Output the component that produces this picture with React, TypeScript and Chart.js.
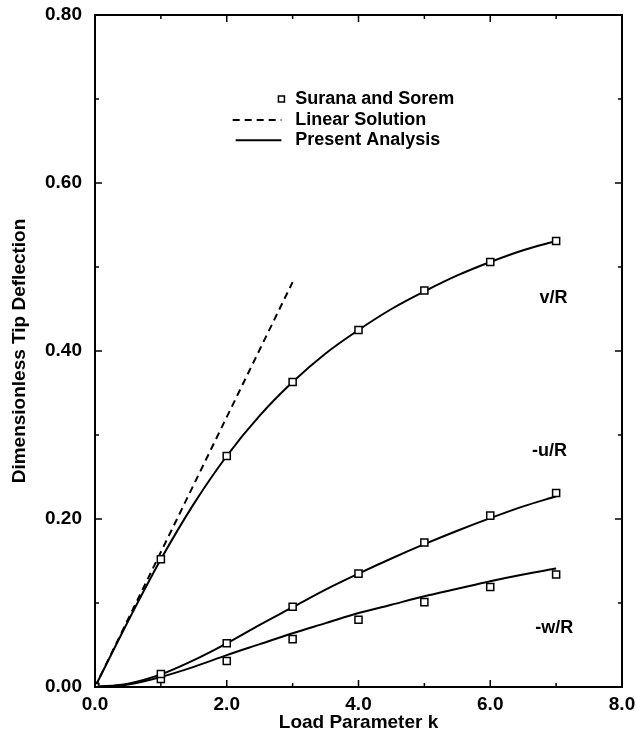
import { useEffect, useRef } from 'react';
import { Chart, registerables } from 'chart.js';

Chart.register(...registerables);

const FONT = '"Liberation Sans", Arial, Helvetica, sans-serif';

// Surana and Sorem (symbols)
const loadK = [0, 1, 2, 3, 4, 5, 6, 7];
const vSurana = [0, 0.152, 0.275, 0.363, 0.425, 0.472, 0.506, 0.531];
const uSurana = [0, 0.0155, 0.052, 0.0955, 0.135, 0.172, 0.204, 0.231];
const wSurana = [0, 0.0095, 0.031, 0.057, 0.08, 0.101, 0.119, 0.134];

// Present Analysis (solid curves)
const curveK = [0, 0.5, 1, 1.5, 2, 2.5, 3, 3.5, 4, 4.5, 5, 5.5, 6, 6.5, 7];
const vPresent = [0, 0.078, 0.152, 0.218, 0.275, 0.323, 0.363, 0.397, 0.425, 0.45, 0.471, 0.49, 0.506, 0.52, 0.531];
const uPresent = [0, 0.004, 0.015, 0.032, 0.052, 0.074, 0.095, 0.116, 0.135, 0.153, 0.17, 0.186, 0.201, 0.215, 0.227];
const wPresent = [0, 0.003, 0.012, 0.024, 0.038, 0.051, 0.064, 0.076, 0.088, 0.098, 0.108, 0.117, 0.126, 0.134, 0.141];

// Linear Solution (dashed)
const linearK = [0, 3];
const linearVals = [0, 0.482];

const legendLabels = ['Surana and Sorem', 'Linear Solution', 'Present Analysis'];
const curveLabels = ['v/R', '-u/R', '-w/R'];
const curveLabelK = [6.96, 6.9, 6.97];
const curveLabelVals = [0.463, 0.281, 0.07];

const xTitle = 'Load Parameter k';
const yTitle = 'Dimensionless Tip Deflection';

const toXY = (xs: number[], ys: number[]) => xs.map((x, i) => ({ x, y: ys[i] }));

export default function App() {
  const ref = useRef<HTMLCanvasElement>(null);

  useEffect(() => {
    const canvas = ref.current;
    if (!canvas) return;

    const decorPlugin = {
      id: 'decor',
      afterDraw(chart: any) {
        const { ctx, chartArea: a, scales } = chart;
        const xs = scales.x;
        const ys = scales.y;
        ctx.save();
        ctx.strokeStyle = '#000';
        ctx.fillStyle = '#000';
        // frame
        ctx.lineWidth = 2;
        ctx.strokeRect(a.left, a.top, a.right - a.left, a.bottom - a.top);
        // inward ticks
        ctx.lineWidth = 1.5;
        for (let k = 0; k <= 8; k++) {
          const px = xs.getPixelForValue(k);
          const len = k % 2 === 0 ? 7 : 4;
          ctx.beginPath();
          ctx.moveTo(px, a.bottom);
          ctx.lineTo(px, a.bottom - len);
          ctx.moveTo(px, a.top);
          ctx.lineTo(px, a.top + len);
          ctx.stroke();
        }
        for (let j = 0; j <= 8; j++) {
          const py = ys.getPixelForValue(j / 10);
          const len = j % 2 === 0 ? 7 : 4;
          ctx.beginPath();
          ctx.moveTo(a.left, py);
          ctx.lineTo(a.left + len, py);
          ctx.moveTo(a.right, py);
          ctx.lineTo(a.right - len, py);
          ctx.stroke();
        }
        // legend
        const symX = xs.getPixelForValue(2.83);
        const lineX0 = xs.getPixelForValue(2.09);
        const textX = xs.getPixelForValue(3.04);
        const rows = [0.7, 0.675, 0.651].map((v) => ys.getPixelForValue(v));
        ctx.lineWidth = 1.5;
        ctx.fillStyle = '#fff';
        ctx.fillRect(symX - 3, rows[0] - 3, 6, 6);
        ctx.strokeRect(symX - 3, rows[0] - 3, 6, 6);
        ctx.lineWidth = 2;
        ctx.setLineDash([7, 5]);
        ctx.beginPath();
        ctx.moveTo(lineX0, rows[1]);
        ctx.lineTo(symX, rows[1]);
        ctx.stroke();
        ctx.setLineDash([]);
        ctx.beginPath();
        ctx.moveTo(lineX0 + 3, rows[2]);
        ctx.lineTo(symX, rows[2]);
        ctx.stroke();
        ctx.fillStyle = '#000';
        ctx.font = `bold 18px ${FONT}`;
        ctx.textAlign = 'left';
        ctx.textBaseline = 'middle';
        legendLabels.forEach((t, i) => ctx.fillText(t, textX, rows[i]));
        // curve labels
        ctx.textAlign = 'center';
        curveLabels.forEach((t, i) =>
          ctx.fillText(t, xs.getPixelForValue(curveLabelK[i]), ys.getPixelForValue(curveLabelVals[i]))
        );
        ctx.restore();
      },
    };

    const solid = (label: string, ys: number[]) => ({
      type: 'line' as const,
      label,
      data: toXY(curveK, ys),
      borderColor: '#000',
      borderWidth: 2,
      pointRadius: 0,
      fill: false,
      tension: 0.4,
      cubicInterpolationMode: 'monotone' as const,
    });
    const pts = (label: string, ys: number[]) => ({
      type: 'scatter' as const,
      label,
      data: toXY(loadK, ys),
      showLine: false,
      pointStyle: 'rect' as const,
      pointRadius: 5,
      pointBackgroundColor: '#fff',
      pointBorderColor: '#000',
      pointBorderWidth: 1.5,
    });

    const chart = new Chart(canvas, {
      type: 'scatter',
      data: {
        datasets: [
          pts('Surana and Sorem v/R', vSurana),
          pts('Surana and Sorem -u/R', uSurana),
          pts('Surana and Sorem -w/R', wSurana),
          solid('Present Analysis v/R', vPresent),
          solid('Present Analysis -u/R', uPresent),
          solid('Present Analysis -w/R', wPresent),
          {
            type: 'line' as const,
            label: 'Linear Solution',
            data: toXY(linearK, linearVals),
            borderColor: '#000',
            borderWidth: 2,
            borderDash: [7, 5],
            pointRadius: 0,
            fill: false,
          },
        ] as any,
      },
      options: {
        animation: false,
        responsive: true,
        maintainAspectRatio: false,
        layout: { padding: { left: 0, right: 14, top: 15, bottom: 0 } },
        plugins: { legend: { display: false }, tooltip: { enabled: false } },
        scales: {
          x: {
            type: 'linear',
            min: 0,
            max: 8,
            grid: { display: false, drawTicks: false },
            border: { display: false },
            ticks: {
              stepSize: 2,
              padding: 6,
              color: '#000',
              maxRotation: 0,
              font: { family: FONT, size: 19, weight: 'bold' },
              callback: (v: any) => Number(v).toFixed(1),
            },
            title: {
              display: true,
              text: xTitle,
              color: '#000',
              font: { family: FONT, size: 19, weight: 'bold' },
              padding: { top: 0, bottom: 9 },
            },
            afterFit: (s: any) => {
              s.height = 56;
              s.paddingLeft = 0;
              s.paddingRight = 0;
            },
          },
          y: {
            type: 'linear',
            min: 0,
            max: 0.8,
            grid: { display: false, drawTicks: false },
            border: { display: false },
            ticks: {
              stepSize: 0.2,
              padding: 13,
              color: '#000',
              font: { family: FONT, size: 19, weight: 'bold' },
              callback: (v: any) => Number(v).toFixed(2),
            },
            title: {
              display: true,
              text: yTitle,
              color: '#000',
              font: { family: FONT, size: 19, weight: 'bold' },
              padding: { top: 8, bottom: 0 },
            },
            afterFit: (s: any) => {
              s.width = 95;
              s.paddingTop = 0;
              s.paddingBottom = 0;
            },
          },
        },
      } as any,
      plugins: [decorPlugin],
    });

    return () => chart.destroy();
  }, []);

  return (
    <div style={{ position: 'fixed', left: 0, top: 0, width: 636, height: 743 }}>
      <canvas ref={ref} />
    </div>
  );
}
